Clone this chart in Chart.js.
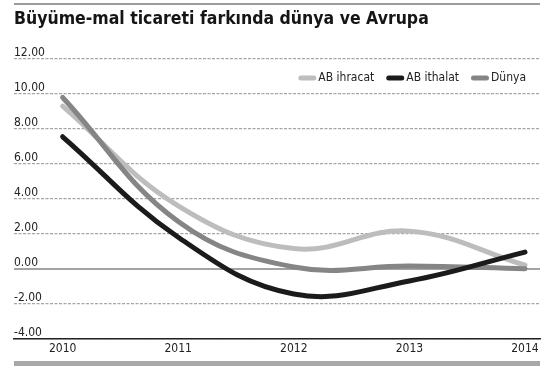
<!DOCTYPE html>
<html><head><meta charset="utf-8">
<script src="https://cdn.jsdelivr.net/npm/chart.js@4/dist/chart.umd.min.js"></script>
<style>html,body{margin:0;padding:0;background:#fff}#wrap{width:556px;height:374px;position:relative}</style>
</head><body><div id="wrap"><canvas id="c" width="556" height="374"></canvas></div>
<script>
const titleText = 'Büyüme-mal ticareti farkında dünya ve Avrupa';
const years = [2010, 2011, 2012, 2013, 2014];
const seriesNames = ['AB ihracat', 'AB ithalat', 'Dünya'];
const abIhracat = [9.3, 3.6, 1.15, 2.15, 0.2];
const abIthalat = [7.55, 1.8, -1.45, -0.7, 0.95];
const dunya = [9.8, 2.7, 0.1, 0.15, 0.0];
const yMin = -4, yMax = 12, yStep = 2;

const FONT = "'DejaVu Sans Condensed', 'DejaVu Sans', sans-serif";

function pts(arr) { return years.map((x, i) => ({ x: x, y: arr[i] })); }

const decor = {
  id: 'decor',
  afterDraw(chart) {
    const ctx = chart.ctx, a = chart.chartArea;
    ctx.save();
    ctx.fillStyle = '#9c9c9c';
    ctx.fillRect(a.left, 3, a.right - a.left, 2);
    ctx.fillStyle = '#a8a8a8';
    ctx.fillRect(a.left, 361, a.right - a.left, 5);
    // legend inside the plot, right aligned
    ctx.font = '12px ' + FONT;
    ctx.textBaseline = 'middle';
    ctx.textAlign = 'left';
    const sw = 18, sh = 5, gap = 2, itemGap = 12, cy = a.top + 19;
    let x = a.right - 14;
    const ds = chart.data.datasets;
    for (let i = ds.length - 1; i >= 0; i--) {
      const label = ds[i].label;
      const tw = ctx.measureText(label).width;
      x -= tw;
      ctx.fillStyle = '#222';
      ctx.fillText(label, x, cy);
      x -= gap + sw;
      ctx.fillStyle = ds[i].borderColor;
      ctx.beginPath();
      ctx.roundRect(x, cy - sh / 2, sw, sh, sh / 2);
      ctx.fill();
      x -= itemGap;
    }
    ctx.restore();
  }
};

new Chart(document.getElementById('c'), {
  type: 'line',
  data: {
    datasets: [
      { label: seriesNames[0], data: pts(abIhracat), borderColor: '#bdbdbd', backgroundColor: '#bdbdbd', order: 3 },
      { label: seriesNames[1], data: pts(abIthalat), borderColor: '#1c1a1a', backgroundColor: '#1c1a1a', order: 1 },
      { label: seriesNames[2], data: pts(dunya), borderColor: '#858585', backgroundColor: '#858585', order: 2 }
    ].map(d => Object.assign(d, { borderWidth: 5, pointRadius: 0, tension: 0.4, fill: false, borderCapStyle: 'round', borderJoinStyle: 'round' }))
  },
  plugins: [decor],
  options: {
    responsive: false,
    devicePixelRatio: 1,
    animation: false,
    layout: { padding: { left: 14, right: 16, top: 6, bottom: 15 } },
    plugins: {
      tooltip: { enabled: false },
      legend: { display: false },
      title: {
        display: true, text: titleText, align: 'start', color: '#151515',
        font: { family: FONT, size: 17.5, weight: 'bold' },
        padding: { top: 3, bottom: 29 }
      }
    },
    scales: {
      x: {
        type: 'linear', min: 2009.579, max: 2014.13,
        grid: { display: false, drawTicks: false },
        border: { display: true, color: '#222', width: 1.5 },
        ticks: {
          stepSize: 1, includeBounds: false, autoSkip: false, maxRotation: 0, padding: 3,
          color: '#222', font: { family: FONT, size: 12 },
          callback: v => Number.isInteger(v) ? String(v) : ''
        }
      },
      y: {
        min: yMin, max: yMax,
        grid: {
          drawTicks: false,
          color: ctx => ctx.tick && ctx.tick.value === 0 ? '#a3a3a3' : '#a6a6a6',
          lineWidth: ctx => ctx.tick && ctx.tick.value === 0 ? 2 : 1.3
        },
        border: { display: false, dash: ctx => ctx.tick && ctx.tick.value === 0 ? [] : [3, 1.5] },
        ticks: {
          stepSize: yStep, mirror: true, padding: 0, labelOffset: -6,
          color: '#222', font: { family: FONT, size: 12 },
          callback: v => v.toFixed(2)
        }
      }
    }
  }
});
</script></body></html>
